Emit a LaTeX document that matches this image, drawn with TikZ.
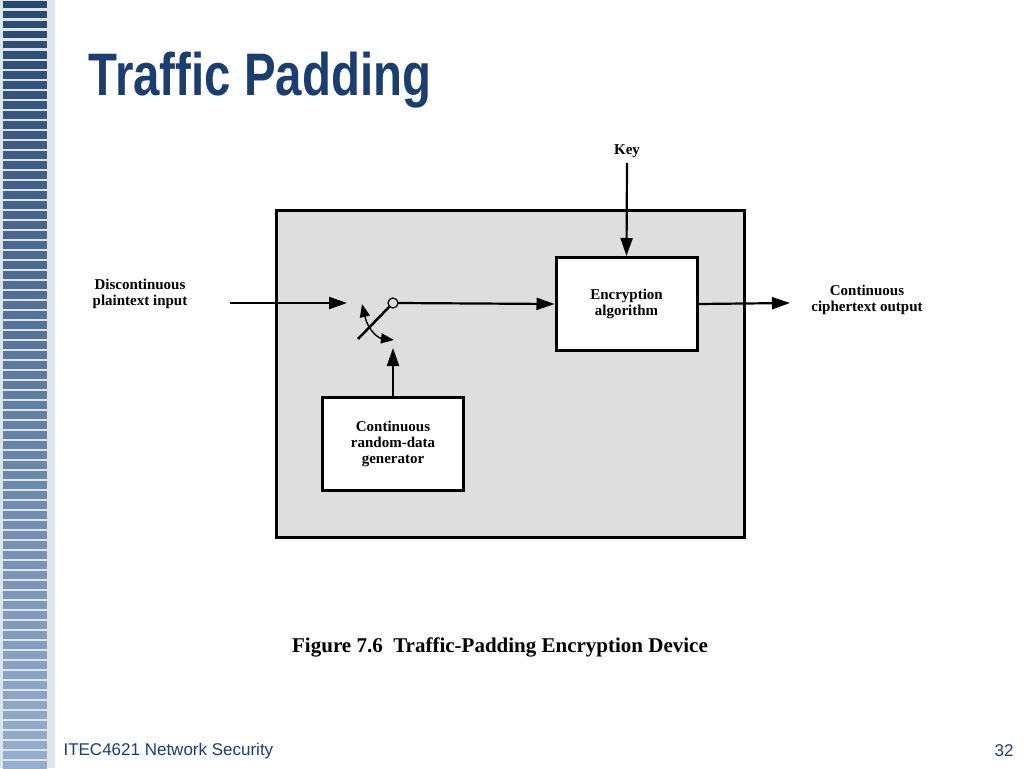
\documentclass[tikz,border=0pt]{standalone}
\usepackage{fontspec}
\setmainfont{Liberation Serif}
\newfontfamily\sans{Liberation Sans}
\usetikzlibrary{arrows.meta}
\definecolor{navy}{RGB}{28,62,110}
\definecolor{stripA}{RGB}{40,72,110}
\definecolor{stripB}{RGB}{150,175,205}
\definecolor{gap}{RGB}{222,228,238}
\begin{document}
\begin{tikzpicture}[x=1pt,y=-1pt,
  lbl/.style={font=\bfseries\fontsize{15}{16}\selectfont,align=center,inner sep=0pt},
  box/.style={draw,line width=3pt,fill=white,align=center,font=\bfseries\fontsize{15}{16}\selectfont},
  arr/.style={line width=2.2pt,-{Triangle[length=18pt,width=12pt]}}]
\useasboundingbox (0,0) rectangle (1024,768);
\fill[white] (0,0) rectangle (1024,768);
\fill[gap] (0,0) rectangle (55,768);
\foreach \i in {0,...,76}{
  \pgfmathtruncatemacro\p{100-\i*1.3}
  \fill[stripA!\p!stripB] (3,\i*10+1) rectangle (47,\i*10+8.5);
}
\node[anchor=west,font=\sans\bfseries\fontsize{60}{64}\selectfont,text=navy,xscale=0.79] (title) at (86,80) {Traffic Padding};
\fill[black!13] (276,210) rectangle (744,537);
\draw[line width=3pt] (276,210) rectangle (744,537);
\node[box,minimum width=141pt,minimum height=93pt] (enc) at (626.5,304) {Encryption\\algorithm};
\node[box,minimum width=141pt,minimum height=93pt] (gen) at (393,443.5) {Continuous\\random-data\\generator};
\node[lbl] (key) at (627,151) {Key};
\node[lbl] (in) at (140,294) {Discontinuous\\plaintext input};
\node[lbl] (out) at (867,300) {Continuous\\ciphertext output};
\coordinate (sw) at (393,303);
\coordinate (inend) at (347,303);
\coordinate (inst) at (230,303);
\coordinate (outend) at (790,303);
\coordinate (gtop) at (393,348);
\coordinate (keyst) at (627,163);
\draw[line width=1.2pt] (sw) circle (5);
\draw[line width=2.5pt] (358,339) -- (390,306);
\draw[line width=1.4pt,{Triangle[length=13pt,width=10pt]}-{Triangle[length=13pt,width=10pt]}] (362,304) .. controls (368,330) and (378,338) .. (394,340);
\draw[arr] (inst) -- (inend);
\draw[arr] (sw) ++(5,0) -- (enc.west);
\draw[arr] (keyst) -- (enc.north);
\draw[arr] (enc.east) -- (outend);
\draw[arr] (gen.north) -- (gtop);
\node[font=\bfseries\fontsize{21}{24}\selectfont] (cap) at (500,647) {Figure 7.6\ \ Traffic-Padding Encryption Device};
\node[anchor=west,font=\sans\fontsize{17}{20}\selectfont,text=navy] (foot) at (60,751) {ITEC4621 Network Security};
\node[anchor=east,font=\sans\fontsize{17}{20}\selectfont,text=navy] (pg) at (1017,751) {32};
\end{tikzpicture}
\end{document}
